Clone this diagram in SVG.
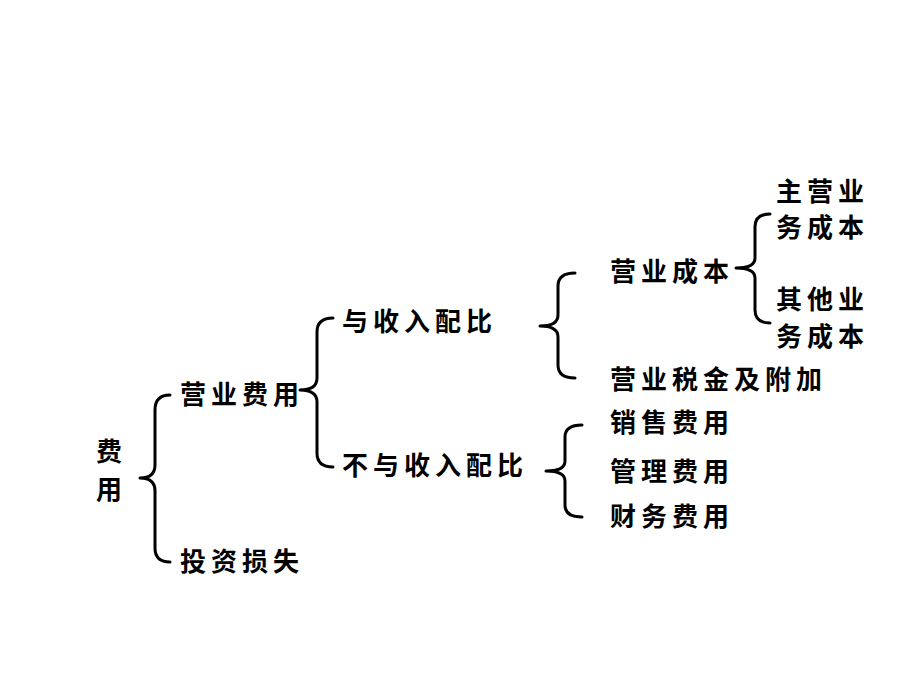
<svg xmlns="http://www.w3.org/2000/svg" width="920" height="690" viewBox="0 0 920 690">
<style>
.t{font-family:"Noto Sans CJK SC","Noto Sans CJK TC",sans-serif;font-size:26px;font-weight:700;letter-spacing:5px;fill:#000}
.b{fill:none;stroke:#000;stroke-width:3;stroke-linecap:round;stroke-linejoin:round}
</style>
<rect width="920" height="690" fill="#fff"/>
<g id="connectors">
<path class="b" d="M170,395 Q155,395 155,410 L155,465 Q155,478 140,478 Q155,478 155,491 L155,548 Q155,562 170,562"/>
<path class="b" d="M333,318 Q317,318 317,332 L317,378 Q317,390 300,390 Q317,390 317,402 L317,453 Q317,467 333,467"/>
<path class="b" d="M575,273 Q558,273 558,286 L558,315 Q558,326 540,326 Q558,326 558,337 L558,365 Q558,378 575,378"/>
<path class="b" d="M582,425 Q565,425 565,437 L565,461 Q565,471 546,471 Q565,471 565,481 L565,505 Q565,517 582,517"/>
<path class="b" d="M770,214 Q755,214 755,227 L755,258 Q755,268 736,268 Q755,268 755,278 L755,310 Q755,323 770,323"/>
</g>
<g id="n-feiyong"><text class="t" x="96" y="461">费</text><text class="t" x="96" y="499">用</text></g>
<g id="n-yingyefeiyong"><text class="t" x="180" y="404">营业费用</text></g>
<g id="n-touzisunshi"><text class="t" x="180" y="571">投资损失</text></g>
<g id="n-peibi"><text class="t" x="342" y="331">与收入配比</text></g>
<g id="n-bupeibi"><text class="t" x="342" y="475">不与收入配比</text></g>
<g id="n-yingyechengben"><text class="t" x="610" y="281">营业成本</text></g>
<g id="n-shuijin"><text class="t" x="610" y="389">营业税金及附加</text></g>
<g id="n-xiaoshou"><text class="t" x="610" y="432">销售费用</text></g>
<g id="n-guanli"><text class="t" x="610" y="481">管理费用</text></g>
<g id="n-caiwu"><text class="t" x="610" y="526">财务费用</text></g>
<g id="n-zhuying"><text class="t" x="776" y="201">主营业</text><text class="t" x="776" y="237">务成本</text></g>
<g id="n-qita"><text class="t" x="776" y="309">其他业</text><text class="t" x="776" y="346">务成本</text></g>
</svg>
